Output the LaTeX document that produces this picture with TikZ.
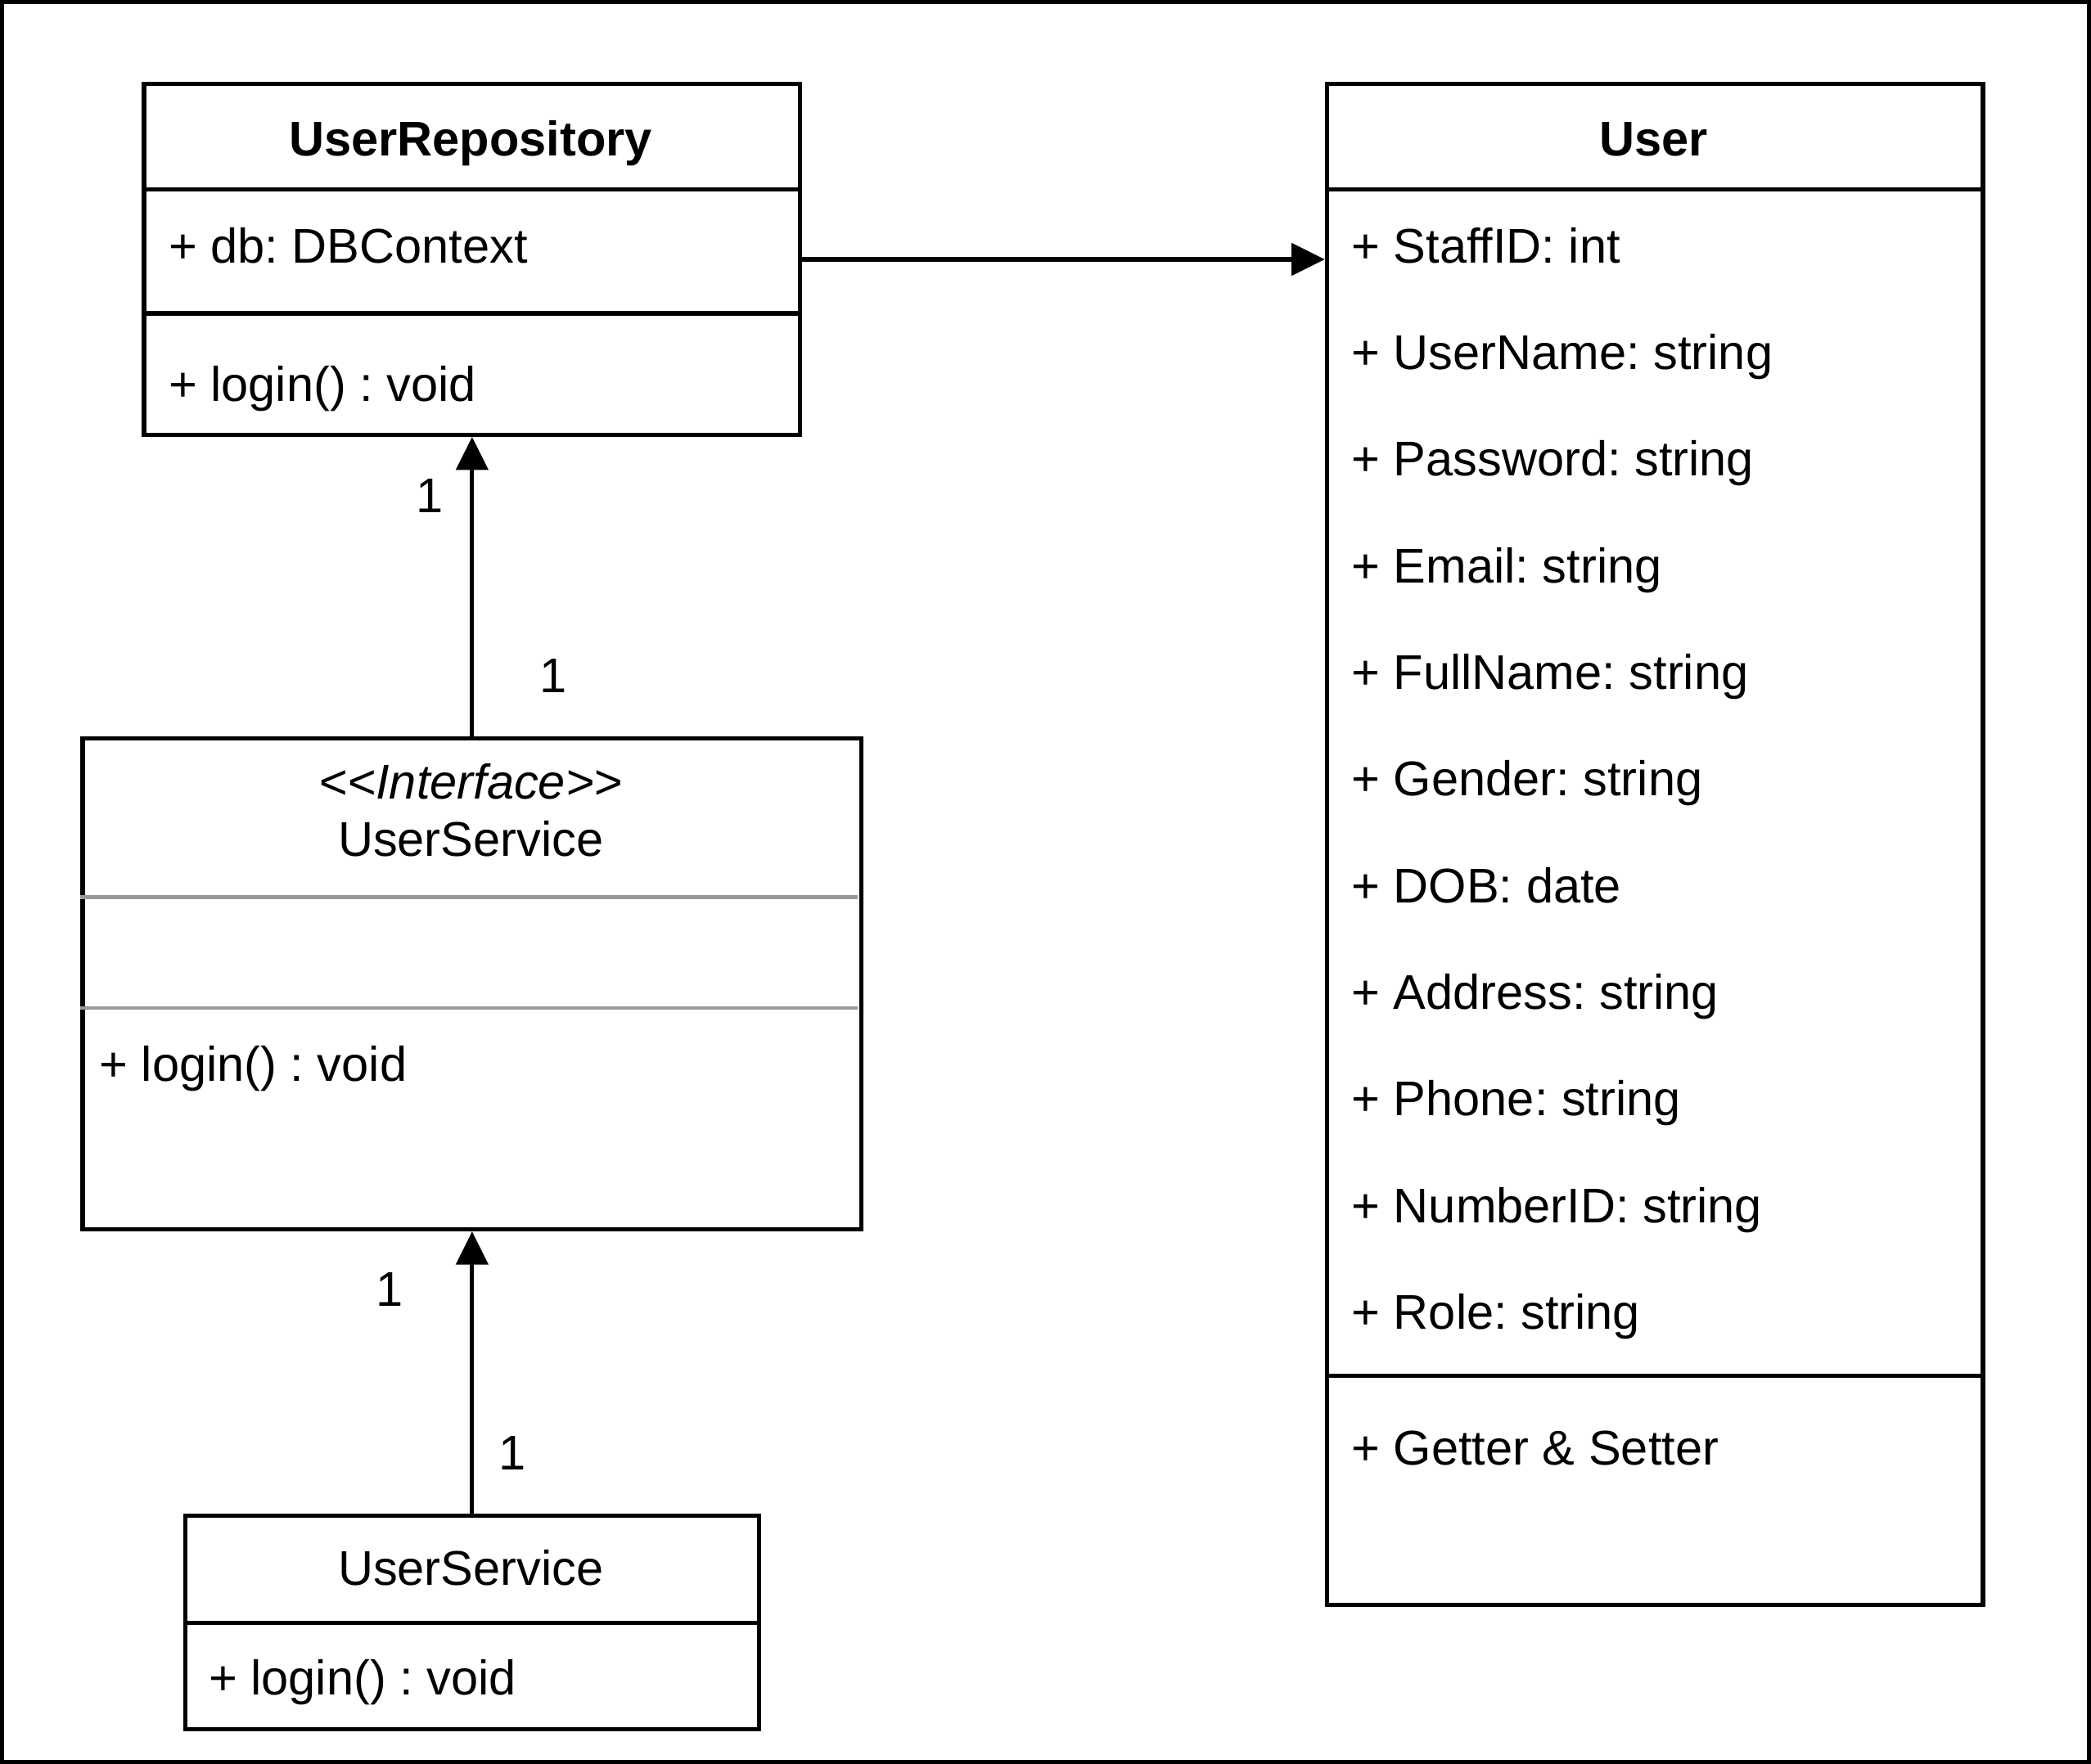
\documentclass[tikz,border=0pt]{standalone}
\usepackage{fontspec}
\setmainfont{Liberation Sans}
\usetikzlibrary{arrows.meta}
\frenchspacing

\begin{document}
\begin{tikzpicture}[scale=0.1, line width=0.9pt]
	\tikzstyle{every node}+=[inner sep=0pt, font=\fontsize{10.4}{12.5}\selectfont]
	\tikzstyle{classbox}=[draw=black, rectangle]
	\tikzstyle{member}=[anchor=base west]
	\tikzstyle{heading}=[anchor=base]
	\tikzstyle{assoc}=[black, -{Triangle[length=7.1pt,width=6.8pt]}]
	\useasboundingbox (0,0) rectangle (156.8,-132.3);
	\draw [black] (0.15,-0.15) rectangle (156.65,-132.15);
	% UserRepository
	\node [classbox, minimum width=4.92cm, minimum height=2.63cm] (repo) at (35.4,-19.45) {};
	\draw [black] (repo.west |- 0,-14.2) -- (repo.east |- 0,-14.2);
	\draw [black] (repo.west |- 0,-23.5) -- (repo.east |- 0,-23.5);
	\node [heading] (repotitle) at (35.3,-11.7) {\bfseries UserRepository};
	\node [member] (repodb) at (12.5,-19.7) {+ db: DBContext};
	\node [member] (repologin) at (12.5,-30.1) {+ login() : void};
	% User
	\node [classbox, minimum width=4.92cm, minimum height=11.41cm] (user) at (124.1,-63.35) {};
	\draw [black] (user.west |- 0,-14.2) -- (user.east |- 0,-14.2);
	\draw [black] (user.west |- 0,-103.2) -- (user.east |- 0,-103.2);
	\node [heading] (usertitle) at (124.0,-11.7) {\bfseries User};
	\node [member] (ustaff) at (101.2,-19.7) {+ StaffID: int};
	\node [member] (uname) at (101.2,-27.7) {+ UserName: string};
	\node [member] (upass) at (101.2,-35.7) {+ Password: string};
	\node [member] (umail) at (101.2,-43.7) {+ Email: string};
	\node [member] (ufull) at (101.2,-51.7) {+ FullName: string};
	\node [member] (ugender) at (101.2,-59.7) {+ Gender: string};
	\node [member] (udob) at (101.2,-67.7) {+ DOB: date};
	\node [member] (uaddr) at (101.2,-75.7) {+ Address: string};
	\node [member] (uphone) at (101.2,-83.7) {+ Phone: string};
	\node [member] (unum) at (101.2,-91.7) {+ NumberID: string};
	\node [member] (urole) at (101.2,-99.7) {+ Role: string};
	\node [member] (ugetset) at (101.2,-109.9) {+ Getter \& Setter};
	% interface
	\node [classbox, minimum width=5.84cm, minimum height=3.68cm] (iface) at (35.4,-73.8) {};
	\draw [gray!80, line width=0.8pt] (iface.west |- 0,-67.3) -- (64.3,-67.3);
	\draw [gray!80, line width=0.8pt] (iface.west |- 0,-75.6) -- (64.3,-75.6);
	\node [heading] (ifacetag) at (35.3,-59.9) {\itshape <{}<Interface>{}>};
	\node [heading] (ifacetitle) at (35.3,-64.2) {UserService};
	\node [member] (ifacelogin) at (7.3,-81.1) {+ login() : void};
	% implementation
	\node [classbox, minimum width=4.30cm, minimum height=1.60cm] (svc) at (35.4,-121.7) {};
	\draw [black] (svc.west |- 0,-121.7) -- (svc.east |- 0,-121.7);
	\node [heading] (svctitle) at (35.3,-118.9) {UserService};
	\node [member] (svclogin) at (15.5,-127.1) {+ login() : void};
	% connectors
	\draw [assoc] (repo.east) -- (repo.east -| user.west);
	\draw [assoc] (iface.north) -- (repo.south);
	\draw [assoc] (svc.north) -- (iface.south);
	\node (m1) at (32.2,-37.2) {1};
	\node (m2) at (41.5,-50.7) {1};
	\node (m3) at (29.2,-96.7) {1};
	\node (m4) at (38.4,-109.0) {1};
\end{tikzpicture}
\end{document}
